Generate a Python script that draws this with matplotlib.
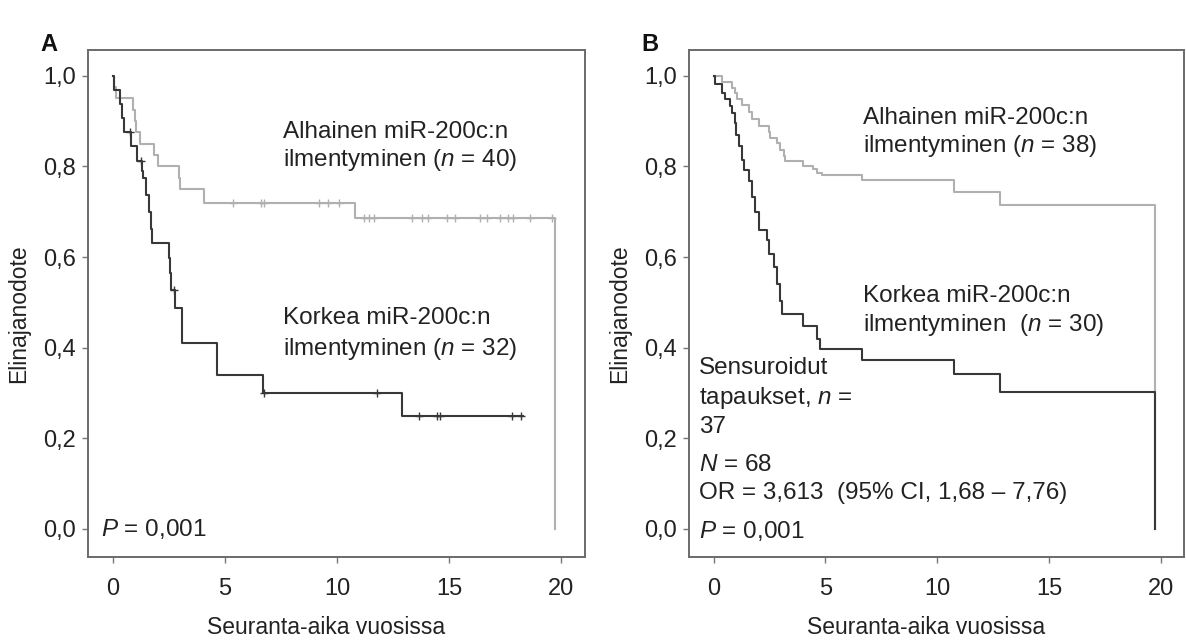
"""
Kaplan-Meier survival curves by miR-200c expression (panels A and B).
"""

import matplotlib
matplotlib.use("Agg")

import matplotlib.pyplot as plt
import numpy as np

# ---- Panel A data ----
a_low_t = [0, 0.06, 0.13, 0.92, 0.98, 1.03, 1.22, 1.85, 2.0, 2.96, 3.0, 4.08, 10.8, 19.7]
a_low_s = [1.0, 0.975, 0.95, 0.925, 0.90, 0.875, 0.85, 0.825, 0.80, 0.775, 0.75, 0.72, 0.687, 0.0]
a_low_cens = [5.34, 6.6, 6.73, 9.2, 9.58, 10.1, 11.19, 11.44, 11.63, 13.33, 13.78, 14.07,
              14.89, 15.26, 16.37, 16.67, 17.26, 17.63, 17.85, 18.59, 19.56]

a_high_t = [0, 0.06, 0.33, 0.43, 0.51, 0.80, 1.10, 1.32, 1.37, 1.47, 1.62, 1.70, 1.77,
            2.49, 2.55, 2.60, 2.77, 3.11, 4.67, 6.68, 12.9, 18.3]
a_high_s = [1.0, 0.969, 0.938, 0.906, 0.875, 0.844, 0.813, 0.790, 0.774, 0.737, 0.700,
            0.663, 0.630, 0.597, 0.564, 0.527, 0.487, 0.410, 0.340, 0.300, 0.250, 0.250]
a_high_cens = [0.77, 1.25, 2.72, 6.75, 11.78, 13.66, 14.44, 14.59, 17.78, 18.19]

# ---- Panel B data ----
b_low_t = [0, 0.37, 0.82, 0.97, 1.04, 1.26, 1.56, 1.71, 2.01, 2.46, 2.53, 2.83, 2.98,
           3.13, 3.20, 4.02, 4.46, 4.61, 4.83, 6.64, 10.74, 12.82, 19.73]
b_low_s = [1.0, 0.987, 0.974, 0.961, 0.948, 0.935, 0.920, 0.904, 0.889, 0.875, 0.862,
           0.852, 0.837, 0.822, 0.812, 0.800, 0.795, 0.785, 0.780, 0.770, 0.744, 0.715, 0.0]

b_high_t = [0, 0.05, 0.37, 0.52, 0.74, 0.82, 0.94, 1.02, 1.12, 1.26, 1.34, 1.56, 1.71,
            1.86, 2.01, 2.38, 2.46, 2.68, 2.83, 2.98, 3.05, 4.02, 4.61, 4.78, 6.64,
            10.74, 12.82, 19.73]
b_high_s = [1.0, 0.981, 0.963, 0.948, 0.933, 0.919, 0.896, 0.870, 0.844, 0.815, 0.793,
            0.767, 0.733, 0.700, 0.659, 0.637, 0.607, 0.578, 0.541, 0.504, 0.474, 0.448,
            0.420, 0.397, 0.373, 0.341, 0.302, 0.0]

x_ticks = [0, 5, 10, 15, 20]
y_ticks = [0.0, 0.2, 0.4, 0.6, 0.8, 1.0]
y_tick_labels = ["0,0", "0,2", "0,4", "0,6", "0,8", "1,0"]

LIGHT = "#b0b0b0"
DARK = "#383838"
TEXT = "#222222"
FS_TEXT = 17.5   # annotations inside the panels
FS_TICK = 17
FS_LABEL = 16.5

plt.rcParams["font.family"] = ["Liberation Sans", "DejaVu Sans"]
plt.rcParams["mathtext.fontset"] = "custom"
plt.rcParams["mathtext.it"] = "Liberation Sans:italic"
plt.rcParams["mathtext.rm"] = "Liberation Sans"


def step_value(t, s, x):
    """Survival value of a step curve at time x."""
    idx = np.searchsorted(t, x, side="right") - 1
    return np.asarray(s)[idx]


def draw_curve(ax, t, s, color, cens=None):
    ax.step(t, s, where="post", color=color, linewidth=1.5)
    if cens:
        ax.plot(cens, step_value(t, s, cens), linestyle="none", marker="+",
                markersize=6, markeredgewidth=1.0, color=color)


def style_axes(ax):
    ax.set_xlim(-1.1, 21.05)
    ax.set_ylim(-0.062, 1.057)
    ax.set_xticks(x_ticks)
    ax.set_yticks(y_ticks)
    ax.set_yticklabels(y_tick_labels)
    ax.tick_params(direction="out", length=4, width=1, color="#777777",
                   labelsize=FS_TICK, labelcolor=TEXT)
    ax.tick_params(axis="x", pad=11)
    ax.tick_params(axis="y", pad=5)
    for sp in ax.spines.values():
        sp.set_color("#6a6a6a")
        sp.set_linewidth(1.4)
    ax.set_ylabel("Elinajanodote", fontsize=FS_LABEL, color=TEXT)
    ax.set_xlabel("Seuranta-aika vuosissa", fontsize=FS_LABEL, color=TEXT)
    ax.yaxis.set_label_coords(-0.117, 0.48)
    ax.xaxis.set_label_coords(0.478, -0.117)


def label_lines(ax, x, lines):
    for y, s in lines:
        ax.text(x, y, s, fontsize=FS_TEXT, color=TEXT, va="center")


def main():
    fig = plt.figure(figsize=(11.86, 6.4), dpi=100)
    ax_a = fig.add_axes([0.0742, 0.1297, 0.4191, 0.7922])
    ax_b = fig.add_axes([0.581, 0.1297, 0.4174, 0.7922])

    # Panel A
    draw_curve(ax_a, a_low_t, a_low_s, LIGHT, a_low_cens)
    draw_curve(ax_a, a_high_t, a_high_s, DARK, a_high_cens)
    style_axes(ax_a)
    label_lines(ax_a, 7.6, [
        (0.875, "Alhainen miR-200c:n"),
        (0.815, r"ilmentyminen ($n$ = 40)"),
        (0.465, "Korkea miR-200c:n"),
        (0.398, r"ilmentyminen ($n$ = 32)"),
    ])
    label_lines(ax_a, -0.5, [(0.0, r"$P$ = 0,001")])

    # Panel B
    draw_curve(ax_b, b_low_t, b_low_s, LIGHT)
    draw_curve(ax_b, b_high_t, b_high_s, DARK)
    style_axes(ax_b)
    label_lines(ax_b, 6.7, [
        (0.906, "Alhainen miR-200c:n"),
        (0.845, r"ilmentyminen ($n$ = 38)"),
        (0.513, "Korkea miR-200c:n"),
        (0.449, r"ilmentyminen  ($n$ = 30)"),
    ])
    label_lines(ax_b, -0.65, [
        (0.355, "Sensuroidut"),
        (0.288, r"tapaukset, $n$ ="),
        (0.224, "37"),
        (0.141, r"$N$ = 68"),
        (0.079, "OR = 3,613  (95% CI, 1,68 \u2013 7,76)"),
        (-0.004, r"$P$ = 0,001"),
    ])

    fig.text(0.034, 0.93, "A", fontsize=17, fontweight="bold", color="#111111", va="center")
    fig.text(0.541, 0.93, "B", fontsize=17, fontweight="bold", color="#111111", va="center")

    fig.savefig("out.png", dpi=100)
    plt.close(fig)


if __name__ == "__main__":
    main()
